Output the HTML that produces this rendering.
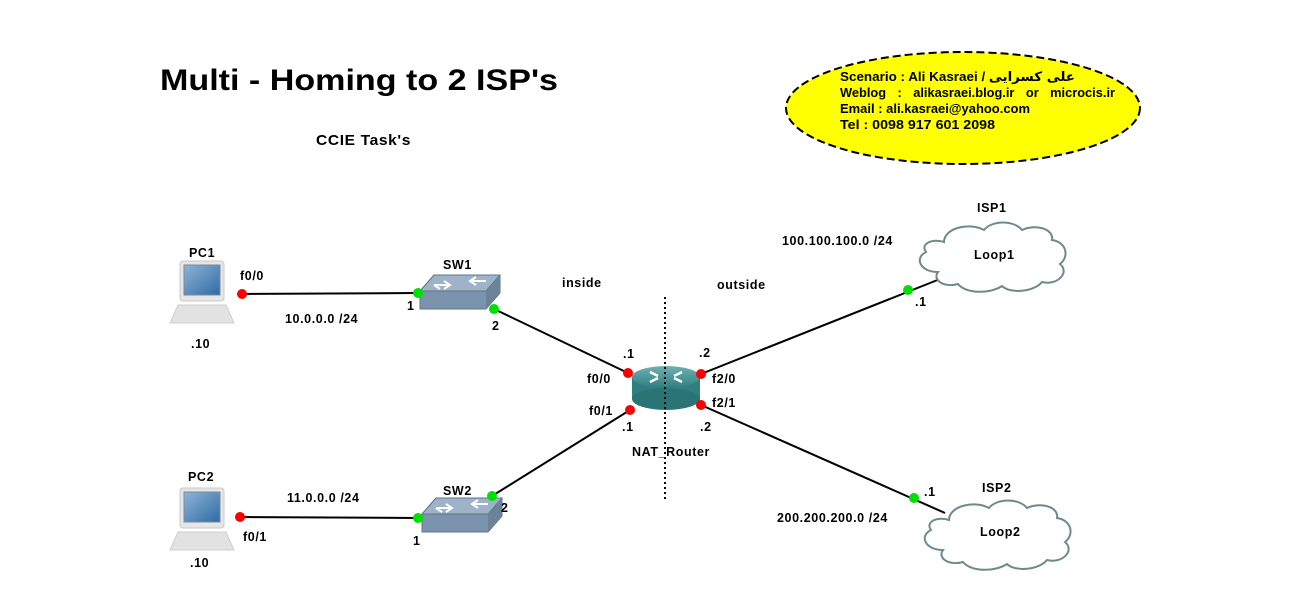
<!DOCTYPE html>
<html><head><meta charset="utf-8"><style>
html,body{margin:0;padding:0;background:#fff;}
svg{display:block;}
text{font-family:"Liberation Sans",sans-serif;font-weight:bold;font-size:12.5px;letter-spacing:0.6px;fill:#000;}
</style></head><body>
<svg width="1289" height="606" viewBox="0 0 1289 606" xmlns="http://www.w3.org/2000/svg">
<defs>
<linearGradient id="scr" x1="0" y1="0" x2="1" y2="1"><stop offset="0" stop-color="#8fb4d8"/><stop offset="1" stop-color="#2f6aa3"/></linearGradient>
<linearGradient id="rt" x1="0" y1="0" x2="0" y2="1"><stop offset="0" stop-color="#6fb0b0"/><stop offset="1" stop-color="#2f7f80"/></linearGradient>
<g id="pc">
<rect x="12" y="0" width="44" height="40" rx="3" fill="#e6e6e6" stroke="#c8c8c8"/>
<rect x="16" y="4" width="36" height="30" fill="url(#scr)" stroke="#7a8a9a"/>
<path d="M10 44 H58 L66 62 H2 Z" fill="#e2e2e2" stroke="#cfcfcf"/>
</g>
<g id="sw">
<path d="M0 16 L14 0 H80 L80 18 L66 34 H0 Z" fill="#7b93ad" stroke="#5d748c"/>
<path d="M0 16 L14 0 H80 L66 16 Z" fill="#9fb3c8" stroke="#5d748c"/>
<path d="M66 16 L80 2 V18 L66 34 Z" fill="#6c8299"/>
<path d="M14 10 h16 M24 6 l6 4 -6 4 M50 6 h16 M56 2 l-6 4 6 4 M20 14 l-6 -4" stroke="#fff" stroke-width="2" fill="none"/>
</g>
<g id="cloud">
<path d="M30 20 C30 6 55 0 70 8 C78 -2 100 -2 108 8 C120 2 140 6 138 18 C152 20 156 34 146 42 C156 50 144 64 128 60 C120 70 96 72 88 64 C76 72 52 72 44 62 C30 66 18 58 24 50 C6 50 0 36 12 30 C6 22 18 16 30 20 Z" fill="#fff" stroke="#6d8a8d" stroke-width="2"/>
</g>
</defs>

<text x="160" y="90" style="font-size:30px;letter-spacing:0" textLength="398" lengthAdjust="spacingAndGlyphs">Multi - Homing to 2 ISP's</text>
<text x="316" y="145" style="font-size:15px" textLength="95" lengthAdjust="spacingAndGlyphs">CCIE Task's</text>

<ellipse cx="963" cy="108" rx="177" ry="56" fill="#ffff00" stroke="#000" stroke-width="2" stroke-dasharray="8,4"/>
<text x="840" y="81" style="font-size:13px;letter-spacing:0" textLength="235" lengthAdjust="spacingAndGlyphs">Scenario : Ali Kasraei / <tspan font-family="DejaVu Sans">علی کسرایی</tspan></text>
<text x="840" y="97" style="font-size:13px;letter-spacing:0;word-spacing:8px" textLength="275" lengthAdjust="spacingAndGlyphs">Weblog : alikasraei.blog.ir   or   microcis.ir</text>
<text x="840" y="113" style="font-size:13px;letter-spacing:0" textLength="190" lengthAdjust="spacingAndGlyphs">Email : ali.kasraei@yahoo.com</text>
<text x="840" y="129" style="font-size:13px;letter-spacing:0" textLength="155" lengthAdjust="spacingAndGlyphs">Tel : 0098 917 601 2098</text>

<g stroke="#000" stroke-width="2">
<line x1="242" y1="294" x2="418" y2="293"/>
<line x1="494" y1="309" x2="628" y2="373"/>
<line x1="240" y1="517" x2="418" y2="518"/>
<line x1="492" y1="496" x2="630" y2="410"/>
<line x1="701" y1="374" x2="940" y2="279"/>
<line x1="701" y1="405" x2="945" y2="513"/>
</g>

<use href="#pc" x="168" y="261"/>
<use href="#pc" x="168" y="488"/>
<use href="#sw" x="420" y="275"/>
<use href="#sw" x="422" y="498"/>
<use href="#cloud" x="914" y="222"/>
<use href="#cloud" x="919" y="500"/>

<g>
<rect x="632" y="377" width="68" height="22" fill="#2f7f80"/>
<ellipse cx="666" cy="399" rx="34" ry="11" fill="#2a7475"/>
<ellipse cx="666" cy="377" rx="34" ry="11" fill="url(#rt)"/>
<path d="M650 372 l8 4 M682 372 l-8 4 M650 382 l8 -4 M682 382 l-8 -4" stroke="#fff" stroke-width="2.5"/>
</g>

<line x1="665" y1="297" x2="665" y2="500" stroke="#000" stroke-width="2" stroke-dasharray="2,3"/>

<g fill="#ff0000">
<circle cx="242" cy="294" r="5"/><circle cx="240" cy="517" r="5"/>
<circle cx="628" cy="373" r="5"/><circle cx="630" cy="410" r="5"/>
<circle cx="701" cy="374" r="5"/><circle cx="701" cy="405" r="5"/>
</g>
<g fill="#00e000">
<circle cx="418" cy="293" r="5"/><circle cx="494" cy="309" r="5"/>
<circle cx="418" cy="518" r="5"/><circle cx="492" cy="496" r="5"/>
<circle cx="908" cy="290" r="5"/><circle cx="914" cy="498" r="5"/>
</g>

<text x="189" y="257">PC1</text>
<text x="191" y="348">.10</text>
<text x="240" y="280">f0/0</text>
<text x="285" y="323">10.0.0.0 /24</text>
<text x="407" y="310">1</text>
<text x="443" y="269">SW1</text>
<text x="492" y="330">2</text>
<text x="562" y="287">inside</text>
<text x="717" y="289">outside</text>
<text x="623" y="358">.1</text>
<text x="587" y="383">f0/0</text>
<text x="589" y="415">f0/1</text>
<text x="622" y="431">.1</text>
<text x="699" y="357">.2</text>
<text x="712" y="383">f2/0</text>
<text x="712" y="407">f2/1</text>
<text x="700" y="431">.2</text>
<text x="632" y="456">NAT_Router</text>
<text x="977" y="212">ISP1</text>
<text x="974" y="259">Loop1</text>
<text x="782" y="245">100.100.100.0 /24</text>
<text x="915" y="306">.1</text>
<text x="982" y="492">ISP2</text>
<text x="980" y="536">Loop2</text>
<text x="924" y="496">.1</text>
<text x="777" y="522">200.200.200.0 /24</text>
<text x="188" y="481">PC2</text>
<text x="190" y="567">.10</text>
<text x="287" y="502">11.0.0.0 /24</text>
<text x="243" y="541">f0/1</text>
<text x="413" y="545">1</text>
<text x="443" y="495">SW2</text>
<text x="501" y="512">2</text>
</svg>
</body></html>
